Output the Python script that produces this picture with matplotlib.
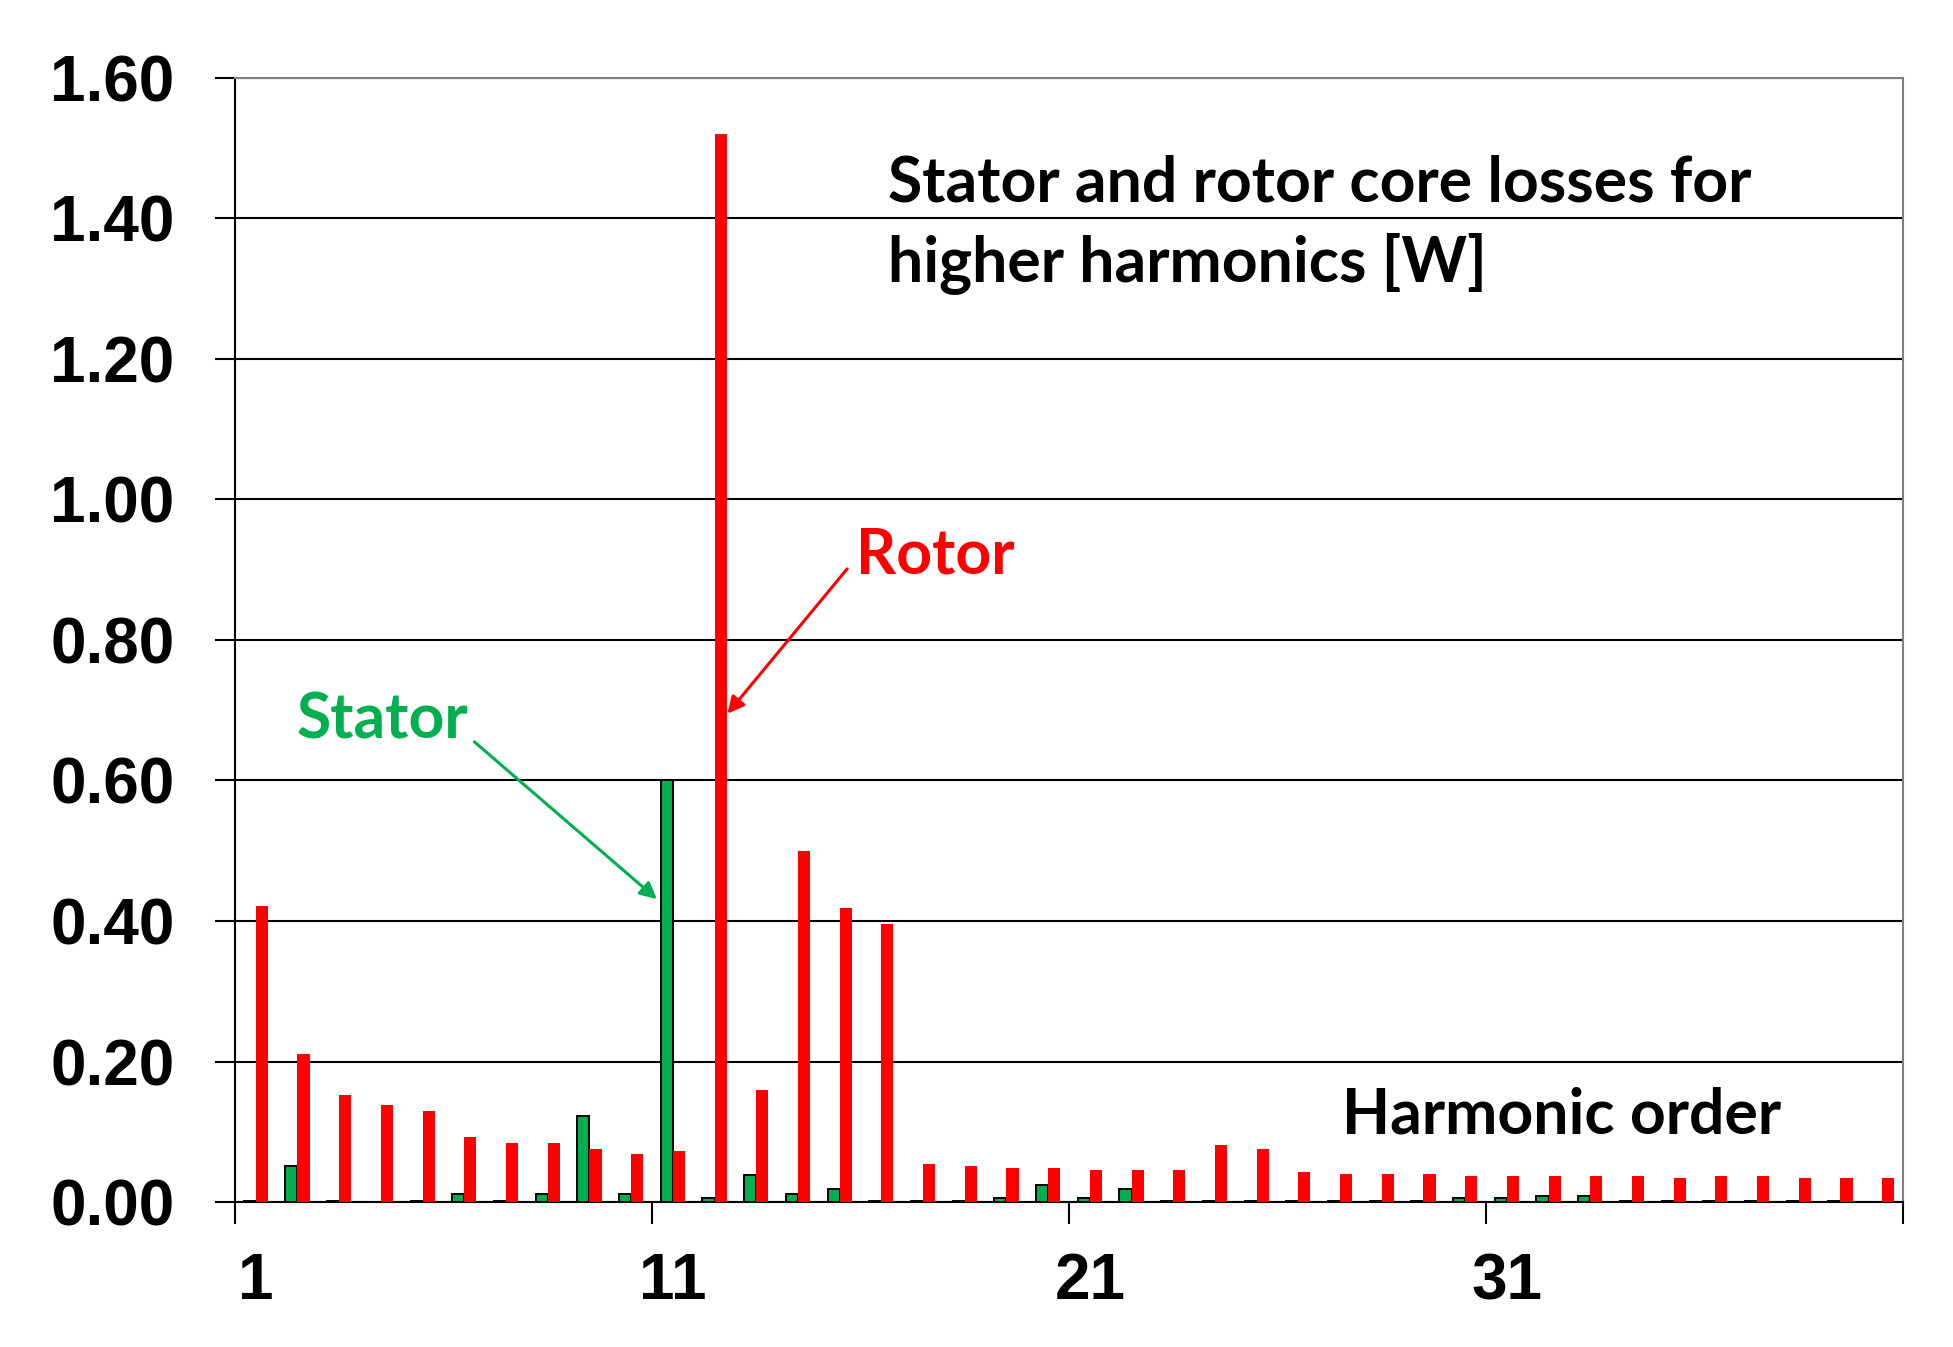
import numpy as np
import matplotlib
matplotlib.use("Agg")
import matplotlib.pyplot as plt

plt.rcParams["font.family"] = ["Liberation Sans", "DejaVu Sans"]

# harmonic orders 1..40
orders = list(range(1, 41))
stator = [0.002, 0.051, 0.002, 0.000, 0.002, 0.012, 0.002, 0.012, 0.122, 0.012,
          0.600, 0.006, 0.039, 0.012, 0.018, 0.002, 0.002, 0.002, 0.006, 0.024,
          0.006, 0.018, 0.002, 0.002, 0.002, 0.002, 0.002, 0.002, 0.002, 0.006,
          0.006, 0.009, 0.009, 0.002, 0.002, 0.002, 0.002, 0.002, 0.002, 0.000]
rotor = [0.421, 0.210, 0.153, 0.138, 0.129, 0.093, 0.084, 0.084, 0.075, 0.069,
         0.072, 1.520, 0.159, 0.500, 0.418, 0.395, 0.054, 0.052, 0.048, 0.048,
         0.045, 0.045, 0.045, 0.081, 0.075, 0.043, 0.040, 0.040, 0.040, 0.037,
         0.037, 0.037, 0.037, 0.037, 0.034, 0.037, 0.037, 0.034, 0.034, 0.034]
yticks = [0.0, 0.2, 0.4, 0.6, 0.8, 1.0, 1.2, 1.4, 1.6]

GREEN = "#00B050"
RED = "#FF0000"
ANN_FONT = ["Lato", "DejaVu Sans"]
ANN_SIZE = 45

fig = plt.figure(figsize=(19.53, 13.47), dpi=100)
ax = fig.add_axes([0.1203, 0.1076, 0.8541, 0.8347])

x = np.arange(len(orders))
w = 0.29
ax.bar(x - w / 2, stator, w, color=GREEN, edgecolor="black", linewidth=1.4, zorder=3)
ax.bar(x + w / 2, rotor, w, color=RED, edgecolor="none", zorder=3)

ax.set_xlim(-0.5, len(orders) - 0.5)
ax.set_ylim(0, 1.6)

# y axis
ax.set_yticks(yticks)
ax.set_yticklabels([f"{v:.2f}" for v in yticks], fontsize=46, fontweight="bold")
ax.tick_params(axis="y", direction="out", length=14.5, width=1.5, pad=29)
ax.yaxis.grid(True, color="black", linewidth=1.5)
ax.set_axisbelow(True)

# x axis: tick marks on category boundaries, labels every 10th order
ax.set_xticks(np.arange(-0.5, len(orders), 10))
ax.set_xticklabels([])
ax.set_xticks(x[::10], minor=True)
ax.set_xticklabels([str(o) for o in orders[::10]], minor=True, fontsize=46, fontweight="bold")
ax.tick_params(axis="x", which="major", direction="out", length=15.5, width=1.5)
ax.tick_params(axis="x", which="minor", length=0, pad=36)

for side in ["left", "bottom"]:
    ax.spines[side].set_color("black")
    ax.spines[side].set_linewidth(1.5)
for side in ["top", "right"]:
    ax.spines[side].set_color("#808080")
    ax.spines[side].set_linewidth(1.5)

# annotations
ax.text(15.15, 1.4235, "Stator and rotor core losses for", fontsize=ANN_SIZE, fontweight="bold",
        family=ANN_FONT, ha="left", va="baseline")
ax.text(15.15, 1.3100, "higher harmonics [W]", fontsize=ANN_SIZE, fontweight="bold",
        family=ANN_FONT, ha="left", va="baseline")
ax.text(26.05, 0.0977, "Harmonic order", fontsize=ANN_SIZE, fontweight="bold",
        family=ANN_FONT, ha="left", va="baseline")

ax.text(0.98, 0.660, "Stator", fontsize=ANN_SIZE, fontweight="bold", color=GREEN,
        family=ANN_FONT, ha="left", va="baseline")
ax.annotate("", xy=(9.62, 0.431), xytext=(5.24, 0.655),
            arrowprops=dict(arrowstyle="-|>", color=GREEN, lw=2.2,
                            mutation_scale=25, shrinkA=0, shrinkB=0))

ax.text(14.40, 0.895, "Rotor", fontsize=ANN_SIZE, fontweight="bold", color=RED,
        family=ANN_FONT, ha="left", va="baseline")
ax.annotate("", xy=(11.31, 0.695), xytext=(14.18, 0.901),
            arrowprops=dict(arrowstyle="-|>", color=RED, lw=2.2,
                            mutation_scale=25, shrinkA=0, shrinkB=0))

fig.patch.set_facecolor("white")
fig.savefig("out.png", dpi=100)
